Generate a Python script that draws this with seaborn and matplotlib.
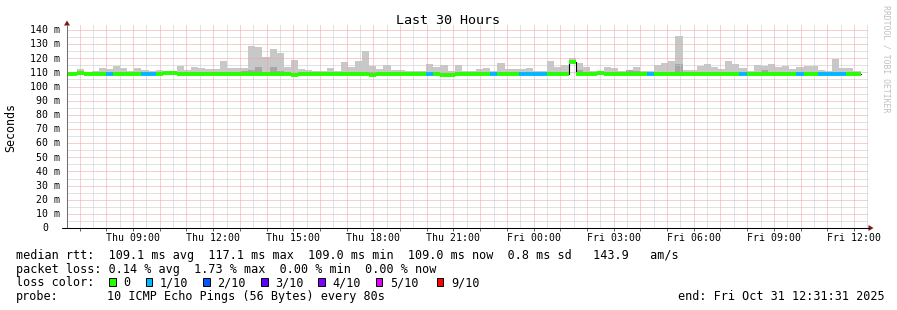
import numpy as np
import pandas as pd
import matplotlib
matplotlib.use("Agg")
import matplotlib.pyplot as plt
import matplotlib.transforms as mtransforms
from matplotlib.patches import Rectangle, Polygon
from matplotlib.lines import Line2D
import seaborn as sns

# ---------------- data ----------------
title = "Last 30 Hours"
step_minutes = 16            # consolidation step
first_edge_hours = -0.147    # first step boundary, hours relative to window start (Thu 06:31:31)

smoke_top = [
    110.0, 110.0, 112.4, 110.0, 111.0, 113.0, 112.4, 114.5, 113.0, 110.8,
    113.0, 112.0, 111.3, 112.0, 110.3, 110.8, 114.5, 112.0, 113.9, 113.0,
    112.4, 112.4, 118.1, 113.0, 113.0, 113.0, 128.7, 128.0, 121.0, 126.6,
    123.8, 113.9, 118.8, 112.4, 112.0, 110.8, 110.8, 113.0, 110.8, 117.4,
    113.9, 118.0, 125.2, 114.5, 112.4, 115.2, 112.0, 112.0, 110.8, 110.8,
    110.8, 116.0, 113.9, 115.2, 110.8, 115.2, 110.8, 110.8, 112.4, 113.1,
    110.8, 116.7, 112.4, 112.4, 112.4, 113.0, 111.0, 111.0, 118.0, 113.9,
    115.2, 120.0, 116.7, 113.9, 111.0, 110.8, 113.9, 113.0, 110.8, 112.0,
    113.9, 110.8, 110.8, 115.2, 116.7, 118.0, 135.5, 112.0, 112.0, 114.5,
    116.0, 113.9, 112.4, 118.1, 116.0, 113.1, 111.0, 115.3, 114.6, 116.0,
    114.0, 114.6, 112.4, 113.9, 114.6, 114.6, 111.7, 111.0, 119.5, 113.1,
    113.1, 111.0,
]

smoke_dark = [
    0, 0, 0, 0, 0, 0, 0, 0, 0, 0,
    0, 0, 0, 0, 0, 0, 0, 0, 0, 0,
    110.6, 110.6, 0, 0, 0, 111.0, 112.0, 113.5, 0, 113.5,
    111.0, 0, 0, 0, 0, 0, 0, 0, 0, 0,
    0, 0, 0, 110.6, 0, 0, 0, 0, 0, 0,
    0, 0, 0, 0, 0, 0, 0, 0, 0, 0,
    0, 0, 0, 0, 0, 0, 0, 0, 0, 0,
    0, 0, 111.5, 0, 0, 0, 0, 0, 0, 111.7,
    111.0, 0, 0, 0, 0, 0, 115.7, 0, 0, 0,
    0, 0, 0, 0, 0, 0, 0, 0, 111.7, 0,
    0, 0, 0, 0, 0, 0, 0, 0, 0, 0,
    0, 0,
]

median_rtt = [
    108.6, 108.6, 109.8, 109.1, 109.1, 109.1, 109.1, 109.1, 109.1, 109.1,
    109.1, 109.1, 109.1, 109.1, 109.8, 109.8, 109.1, 109.1, 109.1, 109.1,
    109.1, 109.1, 109.1, 109.1, 109.1, 109.1, 109.1, 109.1, 109.1, 109.1,
    109.1, 109.1, 108.4, 109.1, 109.1, 109.1, 109.1, 109.1, 109.1, 109.1,
    109.1, 109.1, 109.1, 108.4, 109.1, 109.1, 109.1, 109.1, 109.1, 109.1,
    109.1, 109.1, 109.1, 108.4, 108.4, 109.1, 109.1, 109.1, 109.1, 109.1,
    109.1, 109.1, 109.1, 109.1, 109.1, 109.1, 109.1, 109.1, 109.1, 109.1,
    109.1, 117.1, 109.1, 109.1, 109.1, 109.8, 109.1, 109.1, 109.1, 109.1,
    109.1, 109.1, 109.1, 109.1, 109.1, 109.1, 109.1, 109.1, 109.1, 109.1,
    109.1, 109.1, 109.1, 109.1, 109.1, 109.1, 109.1, 109.1, 109.1, 109.1,
    109.1, 109.1, 109.1, 109.1, 109.1, 109.1, 109.1, 109.1, 109.1, 109.1,
    109.1, 109.1,
]

loss_level = [
    0, 0, 0, 0, 0, 0, 1, 0, 0, 0,
    0, 1, 1, 0, 0, 0, 0, 0, 0, 0,
    0, 0, 0, 0, 0, 0, 0, 0, 0, 0,
    0, 0, 0, 0, 0, 0, 0, 0, 0, 0,
    0, 0, 0, 0, 0, 0, 0, 0, 0, 0,
    0, 1, 0, 0, 0, 0, 0, 0, 0, 0,
    1, 0, 0, 0, 1, 1, 1, 1, 0, 0,
    0, 0, 0, 0, 0, 0, 0, 0, 0, 0,
    0, 0, 1, 0, 0, 0, 0, 0, 0, 0,
    0, 0, 0, 0, 0, 1, 0, 0, 0, 0,
    0, 0, 0, 1, 0, 0, 1, 1, 1, 1,
    0, 0,
]

loss_colors = ["#26ff00", "#00b8ff", "#0059ff", "#5e00ff", "#7e00ff", "#dd00ff", "#ff0000"]
loss_labels = ["0", "1/10", "2/10", "3/10", "4/10", "5/10", "9/10"]

xtick_labels = ["Thu 09:00", "Thu 12:00", "Thu 15:00", "Thu 18:00", "Thu 21:00",
                "Fri 00:00", "Fri 03:00", "Fri 06:00", "Fri 09:00", "Fri 12:00"]
first_label_hour = 2.475     # Thu 09:00 relative to window start
ytick_values = [0, 10, 20, 30, 40, 50, 60, 70, 80, 90, 100, 110, 120, 130, 140]

legend_rtt = "median rtt:  109.1 ms avg  117.1 ms max  109.0 ms min  109.0 ms now  0.8 ms sd   143.9   am/s"
legend_loss = "packet loss: 0.14 % avg  1.73 % max  0.00 % min  0.00 % now"
probe_text = "10 ICMP Echo Pings (56 Bytes) every 80s"
end_text = "end: Fri Oct 31 12:31:31 2025"

# ---------------- figure ----------------
sns.set_style("white")
plt.rcParams["font.family"] = ["DejaVu Sans Mono"]
plt.rcParams["text.color"] = "black"

W, H = 897, 310
fig = plt.figure(figsize=(W / 100, H / 100), dpi=100, facecolor="white")


def fx(x):
    return x / W


def fy(y):
    return 1 - y / H


PX_PER_MS = 198.0 / 140.0
y_top = (228 - 24) / PX_PER_MS
ax = fig.add_axes([fx(67), fy(228), fx(868) - fx(67), fy(24) - fy(228)])
ax.set_facecolor("white")
ax.set_xlim(0, 30)
ax.set_ylim(0, y_top)
for s in ax.spines.values():
    s.set_visible(False)

w = step_minutes / 60.0
n = len(median_rtt)
df = pd.DataFrame({
    "start": first_edge_hours + np.arange(n) * w,
    "top": smoke_top,
    "dark": smoke_dark,
    "median": median_rtt,
    "loss": loss_level,
})

# smoke
ax.bar(df["start"], df["top"] - df["median"], bottom=df["median"], width=w,
       align="edge", color="#c8c8c8", linewidth=0, zorder=1)
d = df[df["dark"] > 0]
ax.bar(d["start"], d["dark"] - d["median"], bottom=d["median"], width=w,
       align="edge", color="#a6a6a6", linewidth=0, zorder=1.1)

# grid
dot = (0, (1, 1))
gkw = dict(lw=0.72, ls=dot)
for h in np.arange(0.975, 30, 1.0):
    ax.axvline(h, color="#c6c6c6", zorder=2, **gkw)
for v in range(5, 145, 10):
    ax.axhline(v, color="#c6c6c6", zorder=2, **gkw)
for h in np.arange(0.475, 30, 1.0):
    ax.axvline(h, color="#f2a0a0", zorder=2.1, **gkw)
for v in range(10, 145, 10):
    ax.axhline(v, color="#f2a0a0", zorder=2.1, **gkw)

# median (thin black step line under coloured loss segments)
edges = list(df["start"]) + [df["start"].iloc[-1] + w]
line_df = pd.DataFrame({"t": edges, "m": list(df["median"]) + [df["median"].iloc[-1]]})
sns.lineplot(data=line_df, x="t", y="m", drawstyle="steps-post", color="black",
             lw=0.8, ax=ax, zorder=3, estimator=None, sort=False)
ax.hlines(df["median"], df["start"], df["start"] + w,
          colors=[loss_colors[i] for i in df["loss"]], lw=2.8, zorder=4)

ax.set_xlabel("")
ax.set_ylabel("")

# x ticks
ax.set_xticks([first_label_hour + 3 * i for i in range(len(xtick_labels))], xtick_labels)
ax.set_xticks(np.arange(0.475, 30, 1.0), minor=True)
ax.tick_params(axis="x", which="both", bottom=True, length=2.5, width=0.7,
               color="#606060", pad=0.8, labelsize=7.1, labelcolor="black", direction="out")
ax.set_yticks([])

# y tick labels
trans = mtransforms.blended_transform_factory(fig.transFigure, ax.transData)
for v in ytick_values:
    lab = f"{v} m" if v else "0"
    xr = 60.0 if v else 60.0 - 2 * 5.9
    ax.annotate(lab, xy=(fx(xr), v), xycoords=trans, xytext=(0, -2.4),
                textcoords="offset points", ha="right", va="baseline",
                fontsize=7.1, color="black", annotation_clip=False)

# axis lines and arrows
fig.add_artist(Line2D([fx(67), fx(67)], [fy(228), fy(25)], color="#707070", lw=0.75))
fig.add_artist(Line2D([fx(62), fx(869)], [fy(228), fy(228)], color="black", lw=0.75))
fig.add_artist(Polygon([(fx(64), fy(25.5)), (fx(70), fy(25.5)), (fx(67), fy(20.5))],
                       closed=True, color="#801818", lw=0))
fig.add_artist(Polygon([(fx(868.5), fy(225)), (fx(868.5), fy(231)), (fx(873.5), fy(228))],
                       closed=True, color="#801818", lw=0))

# titles
fig.text(fx(448), fy(24), title, ha="center", va="baseline", fontsize=9.6)
fig.text(fx(11), fy(127), "Seconds", rotation=90, ha="center", va="center", fontsize=8.4)
fig.text(fx(886), fy(5), "RRDTOOL / TOBI OETIKER", rotation=270, ha="center", va="top",
         fontsize=5.9, color="#c0c0c0")

# legend
LFS = 8.45
fig.text(fx(16), fy(258.8), legend_rtt, fontsize=LFS, va="baseline")
fig.text(fx(16), fy(272.5), legend_loss, fontsize=LFS, va="baseline")
fig.text(fx(16), fy(286.2), "loss color:", fontsize=LFS, va="baseline")
square_x = [109, 145.7, 203.3, 261, 318.3, 375.7, 436.7]
for sx, col, lab in zip(square_x, loss_colors, loss_labels):
    fig.add_artist(Rectangle((fx(sx), fy(286)), fx(6.7), fy(278.3) - fy(286),
                             facecolor=col, edgecolor="black", lw=0.7))
    fig.text(fx(sx + 14.3), fy(286.2), lab, fontsize=LFS, va="baseline")
fig.text(fx(16), fy(299.9), "probe:", fontsize=LFS, va="baseline")
fig.text(fx(107), fy(299.9), probe_text, fontsize=LFS, va="baseline")
fig.text(fx(677.7), fy(299.9), end_text, fontsize=LFS, va="baseline")

fig.savefig("out.png", dpi=100, facecolor="white")
